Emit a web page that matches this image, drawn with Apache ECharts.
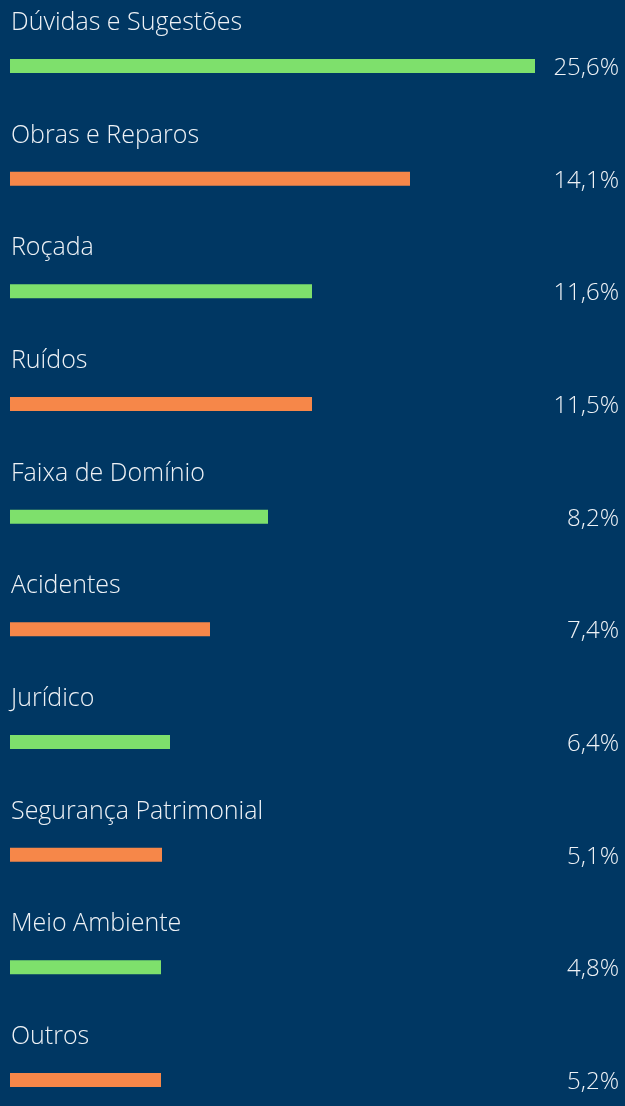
<!DOCTYPE html>
<html>
<head>
<meta charset="utf-8">
<script src="https://cdn.jsdelivr.net/npm/echarts@6/dist/echarts.min.js"></script>
<style>
  html, body { margin: 0; padding: 0; background: #003763; }
  #chart { width: 625px; height: 1106px; }
</style>
</head>
<body>
<div id="chart"></div>
<script>
// categories, top to bottom
const categories = [
  "Dúvidas e Sugestões", "Obras e Reparos", "Roçada", "Ruídos", "Faixa de Domínio",
  "Acidentes", "Jurídico", "Segurança Patrimonial", "Meio Ambiente", "Outros"
];
// percentages printed at the right
const percentLabels = ["25,6%", "14,1%", "11,6%", "11,5%", "8,2%", "7,4%", "6,4%", "5,1%", "4,8%", "5,2%"];
// bar lengths as drawn (track of 610 units), not proportional to the percentages
const barLengths = [525, 400, 302, 302, 258, 200, 160, 152, 151, 151];
const barColors = ["#7ee06c", "#f68749"];

const chart = echarts.init(document.getElementById("chart"));
const font = "Open Sans";

const option = {
  backgroundColor: "#003763",
  animation: false,
  grid: { left: 10, right: 5, top: 66, bottom: 26, outerBoundsMode: "none" },
  xAxis: {
    type: "value",
    min: 0,
    max: 610,
    show: false,
  },
  yAxis: [
    {
      type: "category",
      data: categories,
      inverse: true,
      boundaryGap: false,
      axisLine: { show: false },
      axisTick: { show: false },
      splitLine: { show: false },
      axisLabel: {
        inside: true,
        margin: 1,
        align: "left",
        verticalAlign: "bottom",
        lineHeight: 86,
        color: "#eef2f6",
        fontFamily: font,
        fontWeight: 300,
        fontSize: 25,
      },
    },
    {
      type: "category",
      data: percentLabels,
      inverse: true,
      boundaryGap: false,
      position: "right",
      axisLine: { show: false },
      axisTick: { show: false },
      splitLine: { show: false },
      axisLabel: {
        inside: true,
        margin: 1,
        align: "right",
        verticalAlign: "top",
        lineHeight: 4,
        color: "#eef2f6",
        fontFamily: font,
        fontWeight: 300,
        fontSize: 24,
      },
    },
  ],
  series: [
    {
      type: "bar",
      barWidth: 14,
      data: barLengths.map((v, i) => ({
        value: v,
        itemStyle: { color: barColors[i % 2] },
      })),
    },
  ],
};

chart.setOption(option);
</script>
</body>
</html>
